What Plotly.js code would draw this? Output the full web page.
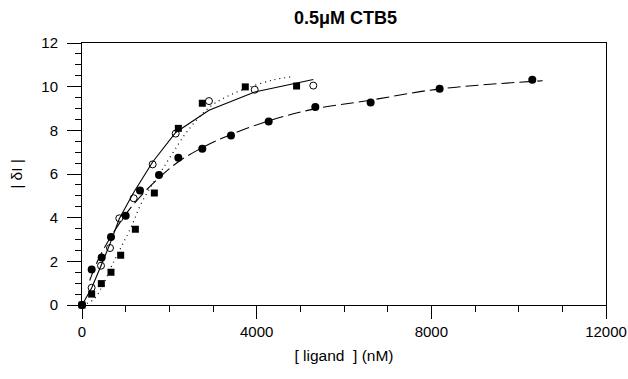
<!DOCTYPE html>
<html>
<head>
<meta charset="utf-8">
<script src="https://cdn.plot.ly/plotly-3.0.1.min.js"></script>
<style>html,body{margin:0;padding:0;background:#fff}#chart{width:628px;height:379px}</style>
</head>
<body>
<div id="chart"></div>
<script>
// Filled circles (data) and their dashed fit curve
const filledX = [0, 221, 451, 664, 1000, 1328, 1763, 2206, 2755, 3412, 4275, 5343, 6610, 8190, 10312];
const filledY = [0, 1.63, 2.18, 3.11, 4.09, 5.24, 5.95, 6.75, 7.16, 7.76, 8.40, 9.07, 9.28, 9.91, 10.32];
const dashFitX = [175, 400, 700, 1000, 1350, 1750, 2200, 2750, 3400, 4300, 5300, 6600, 8200, 10550];
const dashFitY = [1.12, 2.2, 3.25, 4.15, 5.0, 5.8, 6.55, 7.2, 7.8, 8.45, 8.97, 9.38, 9.9, 10.27];

// Open circles (data) and solid fit line
const openX = [0, 221, 435, 641, 854, 1183, 1618, 2145, 2908, 3955, 5297];
const openY = [0, 0.79, 1.80, 2.61, 3.97, 4.89, 6.44, 7.85, 9.34, 9.86, 10.05];
const solidFitX = [0, 221, 435, 641, 854, 1183, 1618, 2145, 2908, 3955, 5297];
const solidFitY = [0, 0.78, 1.8, 2.8, 3.95, 5.15, 6.55, 7.9, 8.92, 9.76, 10.33];

// Filled squares (data) and dotted fit curve
const squareX = [0, 221, 443, 664, 886, 1222, 1657, 2206, 2755, 3740, 4914];
const squareY = [0, 0.50, 0.98, 1.50, 2.28, 3.47, 5.13, 8.09, 9.24, 9.99, 10.03];
const dotFitX = [0, 252, 481, 672, 901, 1130, 1359, 1626, 1855, 2122, 2427, 2931, 3313, 3771, 4382, 4840];
const dotFitY = [0, 0.23, 0.92, 1.76, 2.67, 3.59, 4.66, 5.57, 6.26, 7.1, 8.0, 9.08, 9.54, 9.93, 10.31, 10.46];

const xTicks = [0, 4000, 8000, 12000];
const yTicks = [0, 2, 4, 6, 8, 10, 12];

const traces = [
  {x: dashFitX, y: dashFitY, mode: 'lines', line: {color: '#000', width: 1.1, dash: '13px,5px', shape: 'spline'}, hoverinfo: 'skip'},
  {x: solidFitX, y: solidFitY, mode: 'lines', line: {color: '#000', width: 1.1}, hoverinfo: 'skip'},
  {x: dotFitX, y: dotFitY, mode: 'lines', line: {color: '#000', width: 1.2, dash: '1px,4px', shape: 'spline'}, hoverinfo: 'skip'},
  {x: squareX, y: squareY, mode: 'markers', marker: {symbol: 'square', size: 7, color: '#000'}, cliponaxis: false},
  {x: openX, y: openY, mode: 'markers', marker: {symbol: 'circle-open', size: 7, color: '#000', line: {width: 1, color: '#000'}}, cliponaxis: false},
  {x: filledX, y: filledY, mode: 'markers', marker: {symbol: 'circle', size: 8, color: '#000'}, cliponaxis: false}
];

const fam = 'Liberation Sans, Arial, sans-serif';
const tickFont = {family: fam, color: '#000', size: 15};
const axFont = {family: fam, color: '#000', size: 15.5};

const layout = {
  width: 628, height: 379,
  margin: {l: 82, r: 22, t: 43, b: 74},
  paper_bgcolor: '#fff', plot_bgcolor: '#fff',
  showlegend: false,
  font: tickFont,
  title: {text: '<b>0.5μM CTB5</b>', font: {family: fam, size: 18, color: '#000'}, x: 0.55, xanchor: 'center', y: 0.952, yanchor: 'middle'},
  xaxis: {
    range: [0, 12000], tickvals: xTicks, ticktext: xTicks.map(String),
    ticks: 'outside', ticklen: 13, tickwidth: 1, tickcolor: '#000',
    minor: {dtick: 1000, ticks: 'outside', ticklen: 6, tickwidth: 1, tickcolor: '#000', showgrid: false},
    showline: true, linecolor: '#000', linewidth: 1, mirror: true,
    showgrid: false, zeroline: false,
    tickfont: tickFont,
    title: {text: '[ ligand  ] (nM)', font: axFont, standoff: 11}
  },
  yaxis: {
    range: [0, 12], tickvals: yTicks, ticktext: yTicks.map(String),
    ticks: 'outside', ticklen: 14, tickwidth: 1, tickcolor: '#000',
    ticklabelstandoff: 6,
    minor: {dtick: 0.5, ticks: 'outside', ticklen: 6, tickwidth: 1, tickcolor: '#000', showgrid: false},
    showline: true, linecolor: '#000', linewidth: 1, mirror: true,
    showgrid: false, zeroline: false,
    tickfont: tickFont,
    title: {text: '| δI |', font: axFont, standoff: 14}
  }
};

Plotly.newPlot('chart', traces, layout, {displayModeBar: false, staticPlot: true});
</script>
</body>
</html>
